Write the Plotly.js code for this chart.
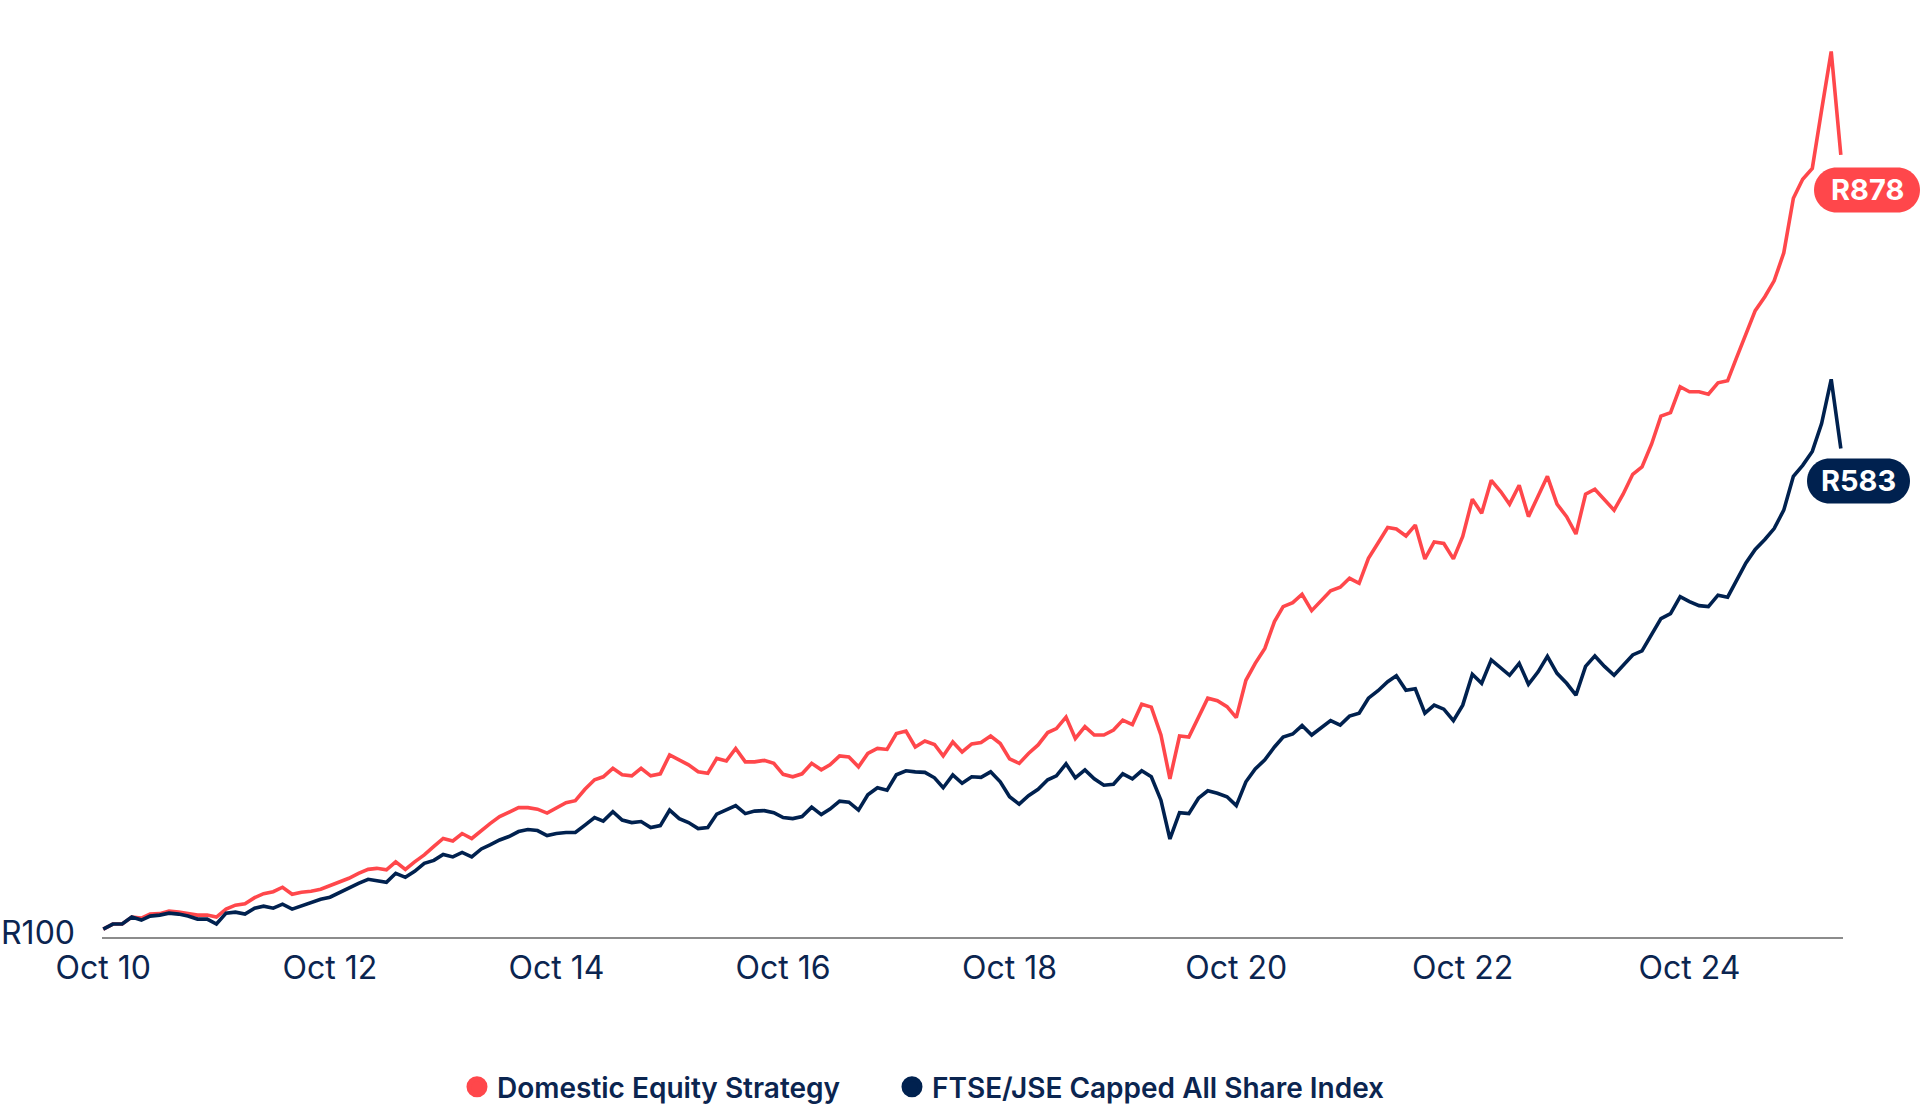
<!DOCTYPE html>
<html>
<head>
<meta charset="utf-8">
<script src="https://cdn.plot.ly/plotly-3.0.1.min.js"></script>
<style>
  html, body { margin: 0; padding: 0; background: #fff; }
  #chart { width: 1920px; height: 1105px; }
</style>
</head>
<body>
<div id="chart"></div>
<script>
// Growth of R100, month by month from Oct 2010
const SERIES_NAMES = ["Domestic Equity Strategy", "FTSE/JSE Capped All Share Index"];
const START_MONTH = "2010-10";

const DOMESTIC_EQUITY = [
  100, 105, 105, 112, 111, 115, 115.5, 118, 117, 115.5, 114, 114, 112, 120, 124, 125.5, 131.5, 135.5, 137.5, 142,
  135, 137, 138, 140, 143.5, 147.5, 151, 156, 160,
  161, 159.5, 167.5, 160, 167.5, 174.5, 183, 191, 188.5, 196, 191, 199.5, 206, 213, 217, 222, 222, 220.5, 216.5, 222,
  227, 229, 240.5, 250, 253, 261.5, 255, 254, 261.5, 254, 256,
  275, 270, 265, 258, 256.5, 271.5, 269, 281.5, 268, 268, 269.5, 266.5, 255.5, 253, 256, 266.5, 260, 265, 274, 273,
  263, 276.5, 281.5, 280.5, 296.5, 299, 283, 289, 285.5, 274, 288, 278,
  286, 287.5, 294, 286.5, 271, 266.5, 276.5, 285, 297.5, 301.5, 313, 291.5, 303.5, 295, 295, 300, 310, 305.5, 326, 323,
  295, 251, 294, 293, 313.5, 332, 329.5, 323.5, 312.5, 350, 367,
  382, 409, 424, 428, 436.5, 420, 430.5, 440, 443.5, 452.5, 447.5, 472.5, 488, 503.5, 502, 495, 506, 472, 489, 487.5,
  472, 494.5, 532, 518, 551, 539.5, 527, 546, 514.5, 534.5, 555,
  527, 514.5, 497, 537, 542, 532, 521, 537, 557, 564.5, 587.5, 615.5, 619, 645, 640, 640, 637.5, 649, 651, 673.5,
  697, 721.5, 735.5, 751.5, 779.5, 834.5, 853.5, 864.5, 923, 982, 878
];

const CAPPED_ALSI = [
  100, 105, 105, 112, 109, 113, 114, 116, 115, 113, 110, 110, 105, 116, 117, 115, 121, 123, 121, 125,
  120, 123, 127, 130, 132, 137, 141.5, 146, 150,
  149, 147, 156, 152, 158, 166, 169, 175, 172.5, 177, 172.5, 180.5, 184.5, 189.5, 193, 198, 200, 199, 194, 196,
  197, 197, 204.5, 212, 208.5, 218, 209.5, 207, 208, 202, 204,
  219.5, 211, 207, 201, 202, 215.5, 219.5, 224, 216, 218.5, 219, 217, 212, 211, 213, 222.5, 215, 220.5, 228.5, 227.5,
  219.5, 235, 242, 239.5, 255, 259, 258, 257.5, 252, 242, 255, 246.5,
  253, 252.5, 258, 248, 233, 225.5, 234, 240.5, 250, 254, 266, 252, 260, 251, 244.5, 245.5, 256, 251, 259, 253,
  229.5, 190.5, 217, 216, 231.5, 239, 236.5, 233, 224, 248, 261,
  270, 283, 293, 296, 304.5, 295, 302.5, 309.5, 305, 314, 317, 332, 339.5, 348.5, 354.5, 340, 341.5, 317, 325, 321,
  309.5, 325, 356, 347, 370.5, 362, 355, 367, 346, 358.5, 374,
  357, 347, 335, 364, 374.5, 364, 355, 365, 375.5, 379.5, 395.5, 412, 417, 434, 429, 425, 424, 435.5, 433.5, 449,
  468, 481.5, 491.5, 502.5, 521, 555, 566, 580, 608, 652.5, 583
];

const TICK_DATES = ["2010-10-01", "2012-10-01", "2014-10-01", "2016-10-01", "2018-10-01", "2020-10-01", "2022-10-01", "2024-10-01"];
const Y_TICKS = [100];
const Y_TICK_TEXT = ["R100"];

const RED = "#ff474b";
const NAVY = "#00214f";
const TEXT = "#0b2550";
const FONT = "Inter, 'Noto Sans', sans-serif";

function monthDates(start, n) {
  const [y, m] = start.split("-").map(Number);
  const out = [];
  for (let i = 0; i < n; i++) {
    const d = new Date(Date.UTC(y, m - 1 + i, 1));
    out.push(d.toISOString().slice(0, 10));
  }
  return out;
}

// rounded "pill" in pixel offsets (y up)
function pillPath(x0, x1, y0, y1) {
  const r = (y1 - y0) / 2;
  const cy = (y0 + y1) / 2;
  const k = 0.5523 * r;
  return `M${x0 + r},${y1} L${x1 - r},${y1} ` +
    `C${x1 - r + k},${y1} ${x1},${cy + k} ${x1},${cy} ` +
    `C${x1},${cy - k} ${x1 - r + k},${y0} ${x1 - r},${y0} ` +
    `L${x0 + r},${y0} ` +
    `C${x0 + r - k},${y0} ${x0},${cy - k} ${x0},${cy} ` +
    `C${x0},${cy + k} ${x0 + r - k},${y1} ${x0 + r},${y1} Z`;
}

const dates = monthDates(START_MONTH, DOMESTIC_EQUITY.length);
const seriesList = [
  { name: SERIES_NAMES[0], y: DOMESTIC_EQUITY, color: RED, legendwidth: 390, badge: { x0: -29, x1: 77, y0: -57.5, y1: -12.5 } },
  { name: SERIES_NAMES[1], y: CAPPED_ALSI, color: NAVY, legendwidth: 480, badge: { x0: -36, x1: 67, y0: -55, y1: -10 } }
];

const traces = [];
seriesList.forEach(s => {
  traces.push({
    x: dates,
    y: s.y,
    type: "scatter",
    mode: "lines",
    name: s.name,
    line: { color: s.color, width: 3.6 },
    showlegend: false,
    hoverinfo: "skip"
  });
});
// legend entries (round dots)
seriesList.forEach(s => {
  traces.push({
    x: [null],
    y: [null],
    type: "scatter",
    mode: "markers",
    name: s.name,
    legendwidth: s.legendwidth,
    marker: { color: s.color, size: 16, line: { color: s.color, width: 5 } },
    showlegend: true,
    hoverinfo: "skip"
  });
});

const shapes = [];
const annotations = [];
seriesList.forEach(s => {
  const last = s.y[s.y.length - 1];
  const b = s.badge;
  shapes.push({
    type: "path",
    xref: "paper", xsizemode: "pixel", xanchor: 1,
    yref: "y", ysizemode: "pixel", yanchor: last,
    path: pillPath(b.x0, b.x1, b.y0, b.y1),
    fillcolor: s.color,
    line: { width: 0 },
    layer: "above"
  });
  annotations.push({
    xref: "paper", x: 1, xanchor: "center", xshift: (b.x0 + b.x1) / 2,
    yref: "y", y: last, yanchor: "middle", yshift: (b.y0 + b.y1) / 2,
    text: "<b>R" + Math.round(last) + "</b>",
    showarrow: false,
    font: { family: FONT, size: 29, color: "#ffffff" }
  });
});

const layout = {
  width: 1920,
  height: 1105,
  paper_bgcolor: "#ffffff",
  plot_bgcolor: "#ffffff",
  font: { family: FONT, color: TEXT },
  margin: { l: 102, r: 77, t: 20, b: 168, autoexpand: false },
  showlegend: true,
  legend: {
    orientation: "h",
    x: 0.2039, xanchor: "left",
    y: -0.1636, yanchor: "middle",
    font: { family: FONT, size: 28, color: TEXT, weight: 600 },
    bgcolor: "rgba(0,0,0,0)"
  },
  xaxis: {
    type: "date",
    range: ["2010-09-27", "2026-02-08"],
    tickvals: TICK_DATES,
    tickformat: "%b %y",
    ticks: "",
    showgrid: false,
    zeroline: false,
    showline: true,
    linecolor: "#8c8c8c",
    linewidth: 1.5,
    tickfont: { family: FONT, size: 32, color: TEXT },
    ticklabelstandoff: 2
  },
  yaxis: {
    range: [92, 1013.6],
    tickvals: Y_TICKS,
    ticktext: Y_TICK_TEXT,
    ticks: "",
    showgrid: false,
    zeroline: false,
    showline: false,
    tickfont: { family: FONT, size: 32, color: TEXT },
    ticklabelstandoff: 26,
    ticklabelshift: 4
  },
  shapes: shapes,
  annotations: annotations,
  hovermode: false
};

Plotly.newPlot("chart", traces, layout, { displayModeBar: false, staticPlot: true });
</script>
</body>
</html>
